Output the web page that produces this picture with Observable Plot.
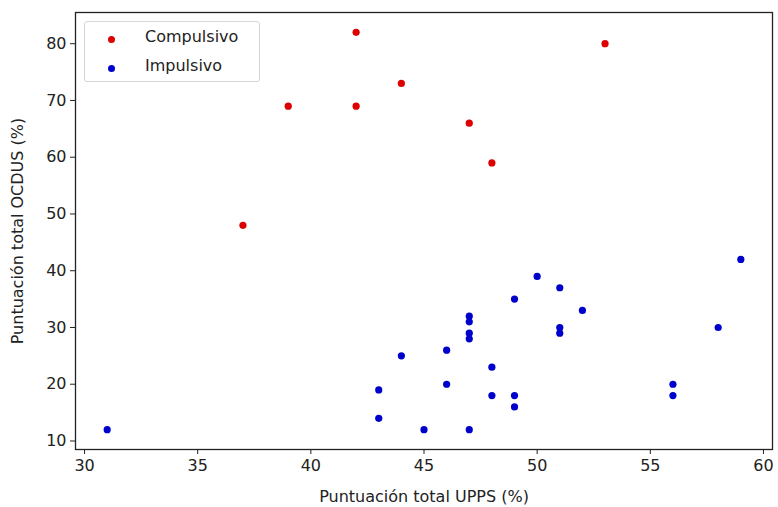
<!DOCTYPE html>
<html><head><meta charset="utf-8">
<script src="https://cdn.jsdelivr.net/npm/d3@7"></script>
<script src="https://cdn.jsdelivr.net/npm/@observablehq/plot@0.6"></script>
<style>
body{margin:0;background:#fff;font-family:"DejaVu Sans",sans-serif;}
#wrap{position:relative;width:778px;height:507px;}
#legend{position:absolute;left:84px;top:21px;width:174px;height:59px;border:1px solid #d6d6d6;border-radius:3px;background:rgba(255,255,255,0.85);font-size:16px;color:#222;}
.li{position:absolute;left:0;}
.li span.d{position:absolute;left:23px;width:7px;height:7px;border-radius:50%;}
.li span.t{position:absolute;left:60px;white-space:nowrap;}
</style></head>
<body><div id="wrap"></div>
<script>
const groups = ["Compulsivo", "Impulsivo"];
const colors = ["#dd0000", "#0000cc"];
const compX = [37, 39, 42, 42, 44, 47, 48, 53];
const compY = [48, 69, 82, 69, 73, 66, 59, 80];
const impX = [31, 43, 43, 44, 45, 46, 46, 47, 47, 47, 47, 47, 48, 48, 49, 49, 49, 50, 51, 51, 51, 52, 56, 56, 58, 59];
const impY = [12, 19, 14, 25, 12, 26, 20, 32, 31, 29, 28, 12, 23, 18, 35, 18, 16, 39, 37, 30, 29, 33, 20, 18, 30, 42];
const xTicks = [30, 35, 40, 45, 50, 55, 60];
const yTicks = [10, 20, 30, 40, 50, 60, 70, 80];

const data = [
  ...compX.map((x, i) => ({x, y: compY[i], g: groups[0]})),
  ...impX.map((x, i) => ({x, y: impY[i], g: groups[1]}))
];

const chart = Plot.plot({
  width: 778, height: 507,
  marginLeft: 75, marginRight: 6, marginTop: 12, marginBottom: 58,
  style: {fontFamily: "DejaVu Sans, sans-serif", fontSize: "16px", color: "#222", background: "#fff"},
  x: {domain: [29.6, 60.4], ticks: xTicks, tickSize: 5, tickPadding: 5, label: "Puntuación total UPPS (%)", labelAnchor: "center", labelArrow: "none", labelOffset: 52},
  y: {domain: [8.5, 85.5], ticks: yTicks, tickSize: 5, tickPadding: 4, label: "Puntuación total OCDUS (%)", labelAnchor: "center", labelArrow: "none", labelOffset: 64},
  color: {domain: groups, range: colors},
  marks: [
    Plot.dot(data, {x: "x", y: "y", fill: "g", r: 3.6}),
    Plot.frame({stroke: "#222", strokeWidth: 1.3})
  ]
});
const wrap = document.getElementById("wrap");
wrap.appendChild(chart);
const lg = document.createElement("div");
lg.id = "legend";
groups.forEach((g, i) => {
  const it = document.createElement("div");
  it.className = "li";
  it.style.top = (i === 0 ? 5 : 34) + "px";
  it.innerHTML = `<span class="d" style="background:${colors[i]};top:9px"></span><span class="t">${g}</span>`;
  lg.appendChild(it);
});
wrap.appendChild(lg);
</script></body></html>
